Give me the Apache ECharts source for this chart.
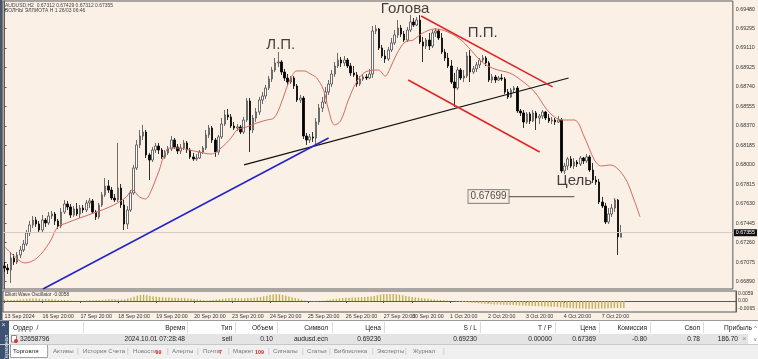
<!DOCTYPE html>
<html><head><meta charset="utf-8">
<script src="https://cdn.jsdelivr.net/npm/echarts@6/dist/echarts.min.js"></script>
<style>html,body{margin:0;padding:0;background:#faf0e6;}#c{width:758px;height:359px;}</style>
</head><body><div id="c"></div><script>
// ---- price data (in points, 1 point = 0.00001) ----
const opens=[
67039,67020,67001,67115,67077,67144,67191,67248,67353,67429,
67476,67438,67381,67476,67448,67514,67533,67467,67419,67552,
67628,67600,67524,67581,67533,67590,67571,67638,67657,67552,
67505,67619,67714,67799,67761,67685,67666,67780,67619,67438,
67571,67733,67970,68189,68274,68312,68094,68046,68141,68179,
68141,68075,68113,68151,68236,68170,68132,68160,68208,68141,
68075,68056,68065,68122,68160,68284,68350,68236,68122,68265,
68388,68474,68455,68369,68350,68360,68312,68426,68607,68331,
68445,68502,68616,68654,68730,68816,68901,68968,68977,68882,
68825,68787,68825,68749,68616,68635,68274,68236,68265,68255,
68407,68540,68597,68692,68768,68863,68939,68996,68968,68996,
68939,68873,68854,68768,68816,68835,68825,68863,69272,69291,
69110,69034,69006,69091,69158,69234,69300,69243,69186,69281,
69357,69329,69376,69167,69129,69186,69129,69253,69272,69205,
69072,69015,68939,68787,68730,68901,68825,68844,69034,68882,
68911,68949,68996,69015,68968,68806,68835,68806,68825,68816,
68692,68645,68711,68730,68512,68493,68407,68483,68417,68493,
68445,68464,68502,68445,68417,68426,68407,68426,67942,67989,
68056,67989,68027,68008,68065,68037,68075,67951,67856,67837,
67647,67609,67457,67533,67590,67666,67312];
const closes=[
67020,67001,67115,67077,67144,67191,67248,67353,67429,67476,
67438,67381,67476,67448,67514,67533,67467,67419,67552,67628,
67600,67524,67581,67533,67590,67571,67638,67657,67552,67505,
67619,67714,67799,67761,67685,67666,67780,67619,67438,67571,
67733,67970,68189,68274,68312,68094,68046,68141,68179,68141,
68075,68113,68151,68236,68170,68132,68160,68208,68141,68075,
68056,68065,68122,68160,68284,68350,68236,68122,68265,68388,
68474,68455,68369,68350,68360,68312,68426,68607,68331,68445,
68502,68616,68654,68730,68816,68901,68968,68977,68882,68825,
68787,68825,68749,68616,68635,68274,68236,68265,68255,68407,
68540,68597,68692,68768,68863,68939,68996,68968,68996,68939,
68873,68854,68768,68816,68835,68825,68863,69272,69291,69110,
69034,69006,69091,69158,69234,69300,69243,69186,69281,69357,
69329,69376,69167,69129,69186,69129,69253,69272,69205,69072,
69015,68939,68787,68730,68901,68825,68844,69034,68882,68911,
68949,68996,69015,68968,68806,68835,68806,68825,68816,68692,
68645,68711,68730,68512,68493,68407,68483,68417,68493,68445,
68464,68502,68445,68417,68426,68407,68426,67942,67989,68056,
67989,68027,68008,68065,68037,68075,67951,67856,67837,67647,
67609,67457,67533,67590,67666,67315,67355];
const lows=[
66982,66963,66878,67049,67058,67115,67172,67229,67324,67400,
67410,67353,67362,67410,67429,67486,67429,67391,67400,67533,
67571,67495,67505,67514,67495,67543,67552,67590,67533,67476,
67486,67600,67695,67733,67666,67647,67647,67590,67381,67391,
67552,67714,67951,68160,68236,68065,67856,68027,68113,68103,
68056,68056,68094,68132,68151,68103,68103,68141,68113,68056,
68037,68037,68056,68103,68141,68255,68208,68075,68094,68246,
68369,68426,68350,68331,68322,68293,68293,68407,68122,68303,
68407,68474,68578,68626,68711,68787,68882,68930,68854,68797,
68759,68768,68721,68597,68588,68246,68189,68208,68217,68189,
68379,68502,68578,68664,68740,68835,68920,68930,68939,68920,
68844,68835,68740,68749,68797,68806,68816,68825,69243,69091,
69015,68968,68987,69072,69139,69205,69215,69167,69167,69262,
69310,69319,69148,68977,69101,69091,69110,69215,69186,69053,
68987,68920,68768,68550,68711,68806,68787,68825,68787,68863,
68882,68920,68977,68939,68787,68778,68778,68797,68797,68673,
68626,68635,68683,68493,68464,68350,68388,68388,68407,68331,
68388,68436,68426,68398,68388,68379,68398,67923,67913,67951,
67970,67961,67980,67989,68008,68018,67932,67828,67809,67628,
67590,67438,67438,67505,67552,67144,67312];
const highs=[
67077,67058,67172,67153,67172,67229,67286,67381,67467,67514,
67505,67467,67524,67495,67552,67562,67552,67486,67590,67666,
67657,67628,67609,67638,67619,67619,67666,67685,67676,67571,
67638,67742,67875,67856,67790,67723,68208,67818,67666,67609,
67761,67999,68236,68331,68379,68331,68113,68170,68208,68208,
68160,68141,68179,68274,68255,68198,68198,68236,68227,68160,
68113,68103,68141,68179,68331,68379,68369,68255,68284,68445,
68521,68531,68483,68407,68388,68379,68455,68635,68635,68474,
68540,68645,68692,68759,68844,68930,69015,69072,68996,68911,
68863,68844,68844,68768,68664,68654,68303,68293,68312,68445,
68578,68645,68740,68806,68901,68977,69063,69025,69034,69015,
68968,68939,68882,68844,68863,68863,68911,69319,69329,69300,
69139,69091,69120,69205,69281,69376,69329,69272,69310,69424,
69395,69404,69424,69215,69205,69253,69281,69300,69291,69253,
69101,69063,68996,68873,68930,68920,68901,69072,69091,68939,
68977,69015,69044,69034,68987,68863,68854,68844,68863,68835,
68721,68730,68749,68749,68531,68521,68502,68502,68521,68512,
68483,68521,68512,68483,68455,68445,68464,68445,68018,68075,
68084,68065,68046,68084,68075,68103,68094,68018,67894,67866,
67695,67638,67590,67628,67685,67676,67429];
// Elliott Wave Oscillator, in units of 0.0001
const ewo=[
12,10,8,9,11,13,15,18,20,21,
20,18,17,16,15,14,12,10,9,8,
6,4,3,2,2,3,4,6,7,8,
9,10,12,14,15,14,13,12,15,20,
28,36,44,50,52,48,44,40,36,33,
31,30,29,28,27,26,25,23,21,19,
16,13,10,7,5,6,9,12,15,18,
21,23,24,24,23,22,22,24,26,28,
30,34,39,44,49,53,56,55,50,44,
38,32,26,20,12,4,1,-2,-3,-3,
-1,2,6,10,14,18,22,25,27,28,
29,30,31,32,33,35,37,42,48,53,
56,58,59,58,56,52,47,42,38,34,
30,27,24,21,18,15,12,10,8,6,
4,2,0,-3,-6,-9,-11,-13,-15,-17,
-19,-21,-22,-24,-26,-28,-29,-30,-31,-32,
-33,-34,-35,-37,-38,-39,-40,-41,-42,-43,
-44,-45,-46,-47,-48,-50,-52,-54,-56,-58,
-60,-61,-62,-63,-64,-65,-65,-64,-63,-62,
-61,-60,-59,-58,-58,-57,-58];
// moving average: bar position and value
const maBar=[0.1,2.7,6.5,10.3,14.4,16.9,19.8,23.9,29.3,33.4,35.9,38.7,40.6,42.9,44.8,46.7,48.2,49.2,50.5,52.4,55.5,58.7,61.8,65.6,68.8,72,73.9,77,80.2,83.4,85.6,87.5,89.4,91,92.9,95.1,97.3,99.2,101.4,103,104.9,106.8,109.3,111.9,114.7,118.8,121,122.6,124.5,127.3,129.9,132.4,136.8,140.9,145.1,148.2,151.1,153.6,156.8,160.6,164.1,168.5,172,174.8,177.3,181.1,184.3,187.5,189.7,192.5,197,200.1,202];
const maVal=[67220,67144,67068,67115,67267,67410,67448,67495,67552,67600,67638,67695,67761,67695,67676,67761,67875,67951,68074,68160,68160,68141,68122,68103,68160,68255,68331,68360,68398,68426,68445,68550,68711,68825,68892,68892,68863,68825,68711,68521,68379,68417,68616,68787,68882,68901,68844,68920,69044,69167,69186,69243,69291,69262,69186,69091,68996,68939,68901,68872,68806,68692,68540,68455,68426,68426,68264,68046,67989,67999,67885,67666,67505];
// drawn trend lines [bar, price]
const neckLine=[[76.1,67999],[179.3,68825]];
const supportLine=[[12.2,66820],[103,68255]];
const channelTop=[[132.4,69414],[174.2,68740]];
const channelBottom=[[128.3,68806],[170.1,68122]];
const targetLine=[[159.9,67699],[181.1,67699]];
const targetBox=[147.3,67699];
const notes=['Голова','Л.П.','П.П.','Цель'];
const notePos=[[127.3,69484],[87.8,69139],[152,69253],[181.1,67847]];
const lastPrice=67355;
// axis ticks
const priceTicks=[69480,69295,69110,68925,68740,68555,68370,68185,68000,67815,67630,67445,67260,67075,66890];
const oscTicks=[59,0,-65];
const timeIdx=[0,12,24,36,48,60,72,84,96,108,120,129,141,153,165,177,189];
const timeTxt=['13 Sep 2024','16 Sep 20:00','17 Sep 20:00','18 Sep 20:00','19 Sep 20:00','20 Sep 20:00','23 Sep 20:00','24 Sep 20:00','25 Sep 20:00','26 Sep 20:00','27 Sep 20:00','30 Sep 20:00','1 Oct 20:00','2 Oct 20:00','3 Oct 20:00','4 Oct 20:00','7 Oct 20:00'];
const NCAT=232;

const cats=Array.from({length:NCAT},(_,i)=>String(i));
const candleData=opens.map((o,i)=>[o,closes[i],lows[i],highs[i]]);
const maData=maBar.map((b,i)=>[b,maVal[i]]);
const fmtP=v=>(v/1e5).toFixed(5);
const showIdx=(i)=>timeIdx.indexOf(i)>=0;
const FF='"Liberation Sans", Arial, sans-serif';

function trend(data,color,w){return {type:'line',xAxisIndex:1,yAxisIndex:0,data:data,symbol:'none',silent:true,lineStyle:{color:color,width:w},z:5};}

const graphic=[];
function T(text,x,y,o){o=o||{};graphic.push({type:'text',silent:true,z:100,x:0,y:0,rotation:o.rot||0,style:{text:text,x:x,y:y,fill:o.fill||'#222',fontSize:o.fs||7,fontFamily:FF,align:o.align||'left',verticalAlign:'middle',fontWeight:o.fw||'normal'}});}
function R(x,y,w,h,fill,stroke){graphic.push({type:'rect',silent:true,z:90,shape:{x:x,y:y,width:w,height:h},style:{fill:fill,stroke:stroke||null,lineWidth:1}});}
function L(x1,y1,x2,y2,c){graphic.push({type:'line',silent:true,z:95,shape:{x1:x1,y1:y1,x2:x2,y2:y2},style:{stroke:c,lineWidth:1}});}

// window border & header
R(0,0,2.5,320,'#4a5566');
T('AUDUSD,H2  0.67312 0.67429 0.67312 0.67355',5,5.5,{fs:5,fill:'#444'});
T('ВОЛНЫ ЭЛЛИОТА H 1 26/03 06:46',5,10.5,{fs:5,fill:'#444'});
T('Elliott Wave Oscillator -0.0058',5,294.5,{fs:4.8,fill:'#333'});
// terminal
R(0,320,758,39,'#ffffff');
L(0,320.5,758,320.5,'#9a9a9a');
R(10,334,738,10,'#e4e4e4');
const hdr=[['Время',185],['Тип',232],['Объем',273],['Символ',328],['Цена',381],['S / L',477],['T / P',552],['Цена',596],['Комиссия',647],['Своп',700],['Прибыль',752]];
T('Ордер  /',13,328,{fs:6.6});
hdr.forEach(h=>T(h[0],h[1],328,{fs:6.6,align:'right'}));
[83,187,235,277,332,384,480,555,599,650,703].forEach(x=>L(x+0.5,322,x+0.5,333,'#dcdcdc'));
const row=[['2024.10.01 07:28:48',185],['sell',232],['0.10',273],['audusd.ecn',328],['0.69236',381],['0.69230',477],['0.00000',552],['0.67369',596],['-0.80',647],['0.78',700],['186.70',738]];
T('32658796',20,339,{fs:6.6});
row.forEach(r=>T(r[0],r[1],339,{fs:6.6,align:'right'}));
T('×',742,339,{fs:8,fill:'#999'});
T('^',754,328,{fs:6,fill:'#666'});
T('v',754,340,{fs:5,fill:'#666'});
R(11.5,335.5,5,6.5,'#ffffff','#8a8a8a');
graphic.push({type:'circle',silent:true,z:99,shape:{cx:16,cy:341,r:2},style:{fill:'#d03a1e'}});
// tab bar
R(0,344.5,758,15,'#f0f0f0');
L(0,344.5,758,344.5,'#c8c8c8');
R(10.5,344.5,37,13,'#ffffff','#a0a0a0');
const tabs=[['Торговля',13],['Активы',53],['История Счета',83],['Новости',133],['Алерты',172],['Почта',203],['Маркет',233],['Сигналы',273],['Статьи',307],['Библиотека',334],['Эксперты',377],['Журнал',413]];
tabs.forEach((t,i)=>T(t[0],t[1],351.5,{fs:6.1,fill:i===0?'#222':'#777'}));
T('99',155.5,353,{fs:5.3,fill:'#e02020',fw:'bold'});
T('7',219,353,{fs:5.3,fill:'#e02020',fw:'bold'});
T('109',255,353,{fs:5.3,fill:'#e02020',fw:'bold'});
[47,77,127,167,197,228,268,302,329,372,405,443].forEach(x=>T('|',x,351.5,{fs:7,fill:'#bbb'}));
R(0,320,9,39,'#3d5272');
T('×',1.5,325,{fs:7,fill:'#dde'});
graphic.push({type:'text',silent:true,z:101,x:6.5,y:348,rotation:Math.PI/2,style:{text:'Терминал',x:0,y:0,fill:'#e8eef8',fontSize:5.8,fontFamily:FF,align:'center',verticalAlign:'middle'}});

const option={
  animation:false,
  backgroundColor:'#faf0e6',
  textStyle:{fontFamily:FF},
  grid:[
    {left:3,top:1,width:733,height:288,show:true,borderColor:'#5a5a5a',borderWidth:1,backgroundColor:'transparent'},
    {left:3,top:291,width:733,height:21,show:true,borderColor:'#5a5a5a',borderWidth:1,backgroundColor:'transparent'}
  ],
  xAxis:[
    {type:'category',gridIndex:0,data:cats,boundaryGap:true,axisLine:{show:false},axisTick:{show:false},axisLabel:{show:false},splitLine:{show:false}},
    {type:'value',gridIndex:0,min:-0.5,max:NCAT-0.5,show:false},
    {type:'category',gridIndex:1,data:cats,boundaryGap:true,
      axisLine:{show:true,lineStyle:{color:'#5a5a5a'}},
      axisTick:{show:true,interval:showIdx,alignWithLabel:true,length:2,lineStyle:{color:'#555'}},
      axisLabel:{show:true,interval:showIdx,formatter:(v,i)=>{const k=timeIdx.indexOf(i);return k>=0?timeTxt[k]:'';},align:'left',fontSize:5.3,color:'#333',margin:2.5,fontFamily:FF},
      splitLine:{show:false}}
  ],
  yAxis:[
    {type:'value',gridIndex:0,position:'right',min:66820.5,max:69556.5,splitLine:{show:false},
      axisLine:{show:true,lineStyle:{color:'#5a5a5a'}},
      axisTick:{show:true,customValues:priceTicks,length:2,lineStyle:{color:'#555'}},
      axisLabel:{show:true,customValues:priceTicks,formatter:fmtP,fontSize:5.3,color:'#333',margin:3,fontFamily:FF}},
    {type:'value',gridIndex:1,position:'right',min:-91,max:83,splitLine:{show:false},
      axisLine:{show:true,lineStyle:{color:'#5a5a5a'}},
      axisTick:{show:false},
      axisLabel:{show:true,customValues:oscTicks,formatter:v=>v===0?'0.00':(v/1e4).toFixed(4),fontSize:5,color:'#333',margin:2,fontFamily:FF}}
  ],
  series:[
    {type:'candlestick',xAxisIndex:0,yAxisIndex:0,data:candleData,barWidth:2,
      itemStyle:{color:'#ffffff',color0:'#000000',borderColor:'#4a4a4a',borderColor0:'#000000',borderWidth:0.8},
      markLine:{symbol:'none',silent:true,animation:false,data:[{yAxis:lastPrice}],
        lineStyle:{color:'#d6cbc0',width:1,type:'solid'},
        label:{show:true,position:'end',distance:1,formatter:fmtP(lastPrice),backgroundColor:'#111',color:'#fff',fontSize:5.3,padding:[1,2],fontFamily:FF}},
      z:3},
    {type:'line',xAxisIndex:1,yAxisIndex:0,data:maData,symbol:'none',smooth:0.35,silent:true,lineStyle:{color:'#d46a60',width:1},z:4},
    trend(neckLine,'#111111',1.2),
    trend(supportLine,'#2424c8',1.6),
    trend(channelTop,'#e02424',1.5),
    trend(channelBottom,'#e02424',1.5),
    trend(targetLine,'#6a6a6a',1.2),
    {type:'scatter',xAxisIndex:1,yAxisIndex:0,symbolSize:1,itemStyle:{color:'rgba(0,0,0,0)'},silent:true,z:6,
      data:[targetBox],
      label:{show:true,position:'right',distance:0,formatter:fmtP(targetBox[1]),backgroundColor:'#faf0e6',borderColor:'#777',borderWidth:1,padding:[1,2],fontSize:10,lineHeight:11,color:'#222',fontFamily:FF}},
    {type:'scatter',xAxisIndex:1,yAxisIndex:0,symbolSize:1,itemStyle:{color:'rgba(0,0,0,0)'},silent:true,z:6,
      data:notePos.map((p,i)=>({value:p,name:notes[i]})),
      label:{show:true,position:'inside',formatter:p=>p.name,fontSize:15,color:'#111',fontFamily:FF}},
    {type:'bar',xAxisIndex:2,yAxisIndex:1,data:ewo,barWidth:1.4,itemStyle:{color:'#c4ae52'},silent:true}
  ],
  graphic:graphic
};
const chart=echarts.init(document.getElementById('c'));
chart.setOption(option);
</script></body></html>
